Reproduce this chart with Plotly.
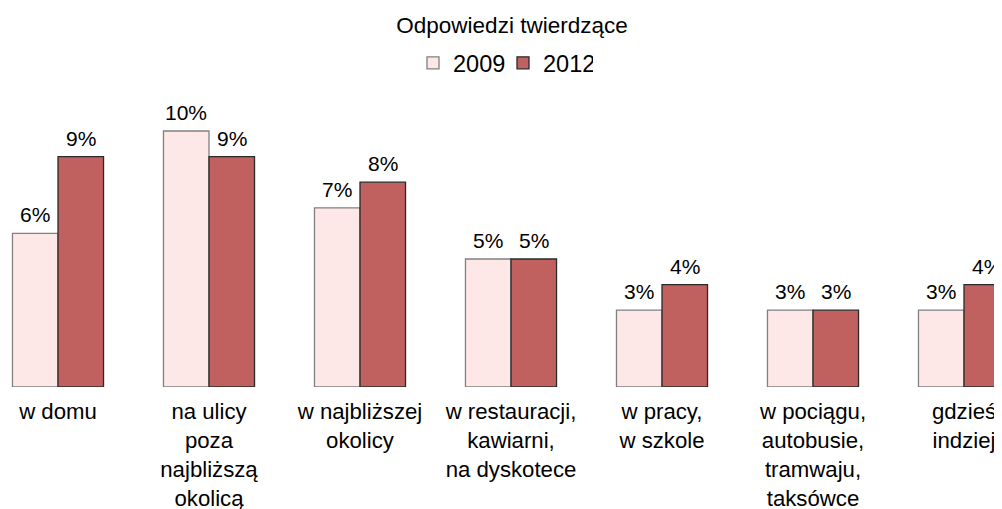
import plotly.graph_objects as go

categories = ["w domu", "na ulicy<br>poza<br>najbliższą<br>okolicą", "w najbliższej<br>okolicy",
              "w restauracji,<br>kawiarni,<br>na dyskotece", "w pracy,<br>w szkole",
              "w pociągu,<br>autobusie,<br>tramwaju,<br>taksówce", "gdzieś<br>indziej"]
values_2009 = [6, 10, 7, 5, 3, 3, 3]
values_2012 = [9, 9, 8, 5, 4, 3, 4]
series_names = ["2009", "2012"]

xs = list(range(len(categories)))
FAM = "Liberation Sans, Arial, sans-serif"
title_font = dict(family=FAM, size=22.5, color="#000000")
legend_font = dict(family=FAM, size=23.5, color="#000000")
tick_font = dict(family=FAM, size=22.2, color="#000000")
lab_font = dict(family=FAM, size=21, color="#000000")

W, H = 994, 501          # page body has an 8px margin in the 1002x509 window
PX_PER_CAT = 151
x_min = -50 / PX_PER_CAT
x_max = x_min + W / PX_PER_CAT
BAR_PX = 0.3015 * PX_PER_CAT

fig = go.Figure()
fig.add_trace(go.Bar(x=xs, y=values_2009, name=series_names[0],
                     marker=dict(color="#FDE8E7", line=dict(color="#808080", width=1.3))))
fig.add_trace(go.Bar(x=xs, y=values_2012, name=series_names[1],
                     marker=dict(color="#C0605F", line=dict(color="#2A2A2A", width=1.3))))

for vals, sign in ((values_2009, -1), (values_2012, 1)):
    for x, v in zip(xs, vals):
        fig.add_annotation(x=x, y=v, text=f"{v}%", showarrow=False, xref="x", yref="y",
                           xanchor="center", yanchor="bottom", xshift=sign * BAR_PX / 2,
                           yshift=5, font=lab_font)

fig.update_layout(
    width=W, height=H,
    margin=dict(l=0, r=0, t=92, b=122, autoexpand=False),
    paper_bgcolor="white", plot_bgcolor="white",
    barmode="group", bargap=0.397, bargroupgap=0,
    font=tick_font,
    title=dict(text="Odpowiedzi twierdzące", x=504 / W, xanchor="center",
               y=1 - 17 / H, yanchor="middle", yref="container", font=title_font),
    legend=dict(orientation="h", x=495 / W, xanchor="center", xref="container",
                y=1 - 55 / H, yanchor="middle", yref="container",
                font=legend_font, itemwidth=30, entrywidth=45, entrywidthmode="pixels",
                traceorder="normal"),
    xaxis=dict(range=[x_min, x_max], tickmode="array", tickvals=xs, ticktext=categories,
               showgrid=False, zeroline=False, showline=False, ticks="", tickfont=tick_font,
               ticklabelstandoff=9, automargin=False),
    yaxis=dict(range=[0, 11.21], visible=False, automargin=False),
)

fig.write_html("out.html")
